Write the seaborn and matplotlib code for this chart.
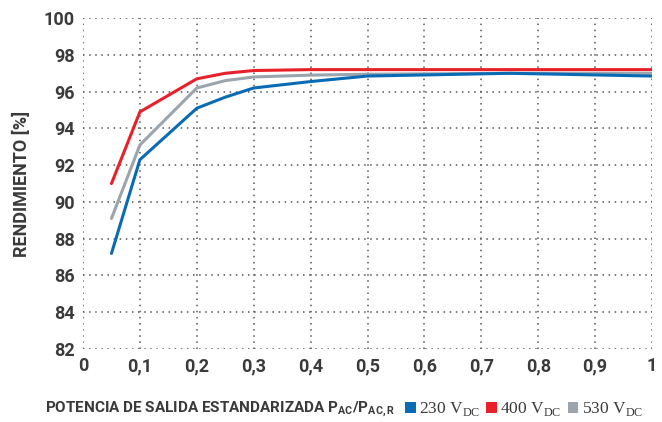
import pandas as pd
import seaborn as sns
import matplotlib.pyplot as plt
from matplotlib import font_manager
from matplotlib.patches import Patch

potencia = [0.05, 0.1, 0.2, 0.25, 0.3, 0.4, 0.5, 0.75, 1.0]
rend_230 = [87.2, 92.3, 95.1, 95.7, 96.2, 96.55, 96.85, 97.0, 96.85]
rend_400 = [91.0, 94.9, 96.7, 97.0, 97.15, 97.2, 97.2, 97.2, 97.2]
rend_530 = [89.1, 93.1, 96.2, 96.6, 96.8, 96.9, 96.95, 97.0, 97.0]
series = ["230", "400", "530"]
colores = {"230": "#0a6bb5", "400": "#e8202a", "530": "#9aa5ad"}
yticks = list(range(82, 101, 2))
xticks = [i / 10 for i in range(11)]
xlabels = ["0"] + ["0," + str(i) for i in range(1, 10)] + ["1"]

nombres = {f.name for f in font_manager.fontManager.ttflist}
fuente = "Liberation Sans Narrow" if "Liberation Sans Narrow" in nombres else "Roboto"

sns.set_style("white")
plt.rcParams["font.family"] = [fuente, "DejaVu Sans"]
plt.rcParams["mathtext.fontset"] = "custom"
plt.rcParams["mathtext.rm"] = "Liberation Serif"
plt.rcParams["mathtext.sf"] = fuente + ":bold"

df = pd.DataFrame({
    "potencia": potencia * 3,
    "rend": rend_230 + rend_400 + rend_530,
    "serie": [s for s in series for _ in potencia],
})

fig = plt.figure(figsize=(6.62, 4.22), dpi=100)
ax = fig.add_axes([0.1254, 0.173, 0.8595, 0.784])
sns.lineplot(data=df, x="potencia", y="rend", hue="serie", palette=colores,
             linewidth=2.2, legend=False, ax=ax, hue_order=["530", "230", "400"])

ax.set_xlim(0, 1)
ax.set_ylim(82, 100)
ax.set_xticks(xticks)
ax.set_xticklabels(xlabels)
ax.set_yticks(yticks)
for s in ax.spines.values():
    s.set_visible(False)
ax.grid(True, linestyle=(0, (1, 3)), color="#555555", linewidth=1.1)
ax.tick_params(length=0, labelsize=13, colors="#3a3a3a", pad=6)
for t in ax.get_xticklabels() + ax.get_yticklabels():
    t.set_fontweight("bold")
ax.set_xlabel("")
ax.set_ylabel("RENDIMIENTO [%]", fontsize=13, fontweight="bold", color="#3a3a3a", labelpad=9)

fig.text(0.068, 0.028, r"POTENCIA DE SALIDA ESTANDARIZADA P$_{\mathsf{AC}}$/P$_{\mathsf{AC,R}}$",
         fontsize=11, fontweight="bold", color="#3a3a3a", va="center")

handles = [Patch(facecolor=colores[s], edgecolor="none") for s in series]
etiquetas = [s + r" V$_{\mathrm{DC}}$" for s in series]
fig.legend(handles, etiquetas, loc="center left", bbox_to_anchor=(0.612, 0.03), ncol=3,
           frameon=False, handlelength=0.6, handleheight=0.6, handletextpad=0.2,
           columnspacing=0.35, prop={"family": "Liberation Serif", "size": 12.5},
           labelcolor="#3a3a3a", borderpad=0, borderaxespad=0)

fig.savefig("out.png", dpi=100)
